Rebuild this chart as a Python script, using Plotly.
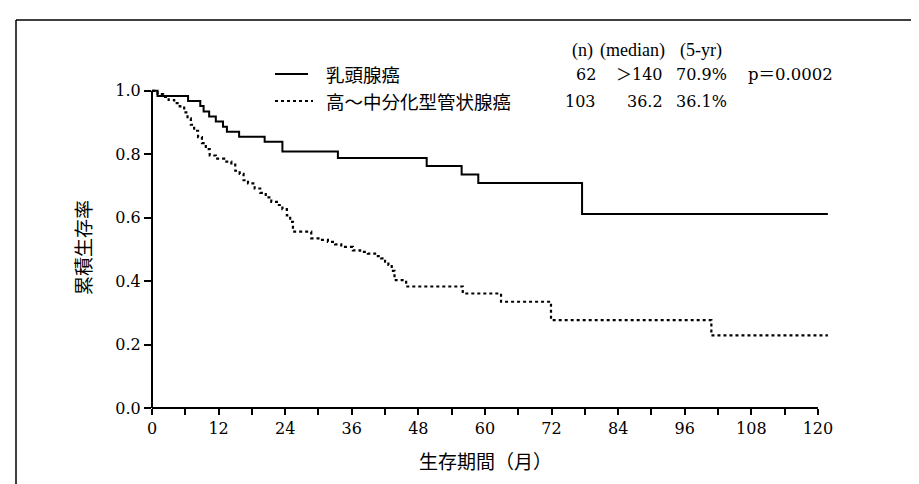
import plotly.graph_objects as go

# ---------------- data ----------------
papillary_months = [0, 1.0, 6.5, 8.7, 9.3, 10.3, 11.5, 12.8, 13.5, 15.7, 20.3, 23.5,
                    33.5, 49.5, 55.8, 58.8, 77.5, 121.8]
papillary_surv = [1.0, 0.984, 0.968, 0.952, 0.935, 0.919, 0.903, 0.887, 0.871, 0.855,
                  0.839, 0.809, 0.788, 0.763, 0.736, 0.709, 0.612, 0.612]

tubular_months = [0, 1, 2, 3, 4, 5, 5.8, 6.4, 7.0, 7.6, 8.3, 9.0, 9.7, 10.4, 11.5, 13.0,
                  14.3, 15.0, 15.8, 16.5, 17.3, 18.5, 19.5, 20.5, 21.5, 22.5, 23.5, 24.3,
                  24.9, 25.4, 28.7, 30.2, 31.7, 33.0, 34.1, 36.2, 37.5, 38.9, 40.2, 41.3,
                  42.0, 42.6, 43.2, 43.7, 45.8, 56.0, 62.9, 71.9, 100.8, 121.8]
tubular_surv = [1.0, 0.990, 0.981, 0.971, 0.961, 0.951, 0.932, 0.913, 0.893, 0.874, 0.854,
                0.835, 0.816, 0.796, 0.786, 0.777, 0.767, 0.748, 0.738, 0.718, 0.708, 0.692,
                0.678, 0.664, 0.650, 0.640, 0.627, 0.607, 0.587, 0.556, 0.535, 0.530, 0.524,
                0.516, 0.508, 0.497, 0.492, 0.487, 0.479, 0.472, 0.461, 0.451, 0.432, 0.403,
                0.383, 0.361, 0.335, 0.277, 0.229, 0.229]

group_names = ["乳頭腺癌", "高〜中分化型管状腺癌"]
group_n = ["62", "103"]
group_median = ["＞140", "36.2"]
group_5yr = ["70.9%", "36.1%"]
p_value_text = "p＝0.0002"
header_labels = ["(n)", "(median)", "(5-yr)"]

x_tick_vals = [0, 6, 12, 18, 24, 30, 36, 42, 48, 54, 60, 66, 72, 78, 84, 90, 96, 102, 108, 114, 120]
x_tick_text = ["0", "", "12", "", "24", "", "36", "", "48", "", "60", "", "72", "", "84", "",
               "96", "", "108", "", "120"]
y_tick_vals = [0.0, 0.2, 0.4, 0.6, 0.8, 1.0]
y_tick_text = ["0.0", "0.2", "0.4", "0.6", "0.8", "1.0"]

x_title = "生存期間（月）"
y_title = "累積生存率"

# ---------------- layout geometry ----------------
W, H = 919, 484
L, R, T, B = 144, 821, 79, 400
XMAX, YMAX = 122, 1.012
SERIF = "DejaVu Serif, Noto Sans CJK JP"
TEXT_SERIF = "Liberation Serif, Noto Sans CJK JP"
CJK = "Noto Sans CJK JP, DejaVu Serif"


def px(p):
    return (p - L) / (R - L)


def py(p):
    return (B - p) / (B - T)


fig = go.Figure()
fig.add_trace(go.Scatter(x=papillary_months, y=papillary_surv, mode="lines",
                         line=dict(color="black", width=2, shape="hv"),
                         name=group_names[0], showlegend=False))
fig.add_trace(go.Scatter(x=tubular_months, y=tubular_surv, mode="lines",
                         line=dict(color="black", width=2.2, shape="hv", dash="3px,3px"),
                         name=group_names[1], showlegend=False))

header_y = 43
rows_y = [66, 93]
shapes = []
# axis lines
shapes.append(dict(type="line", xref="paper", yref="paper", x0=0, x1=120 / XMAX, y0=0, y1=0,
                   line=dict(color="black", width=2)))
shapes.append(dict(type="line", xref="paper", yref="paper", x0=0, x1=0, y0=0, y1=1.0 / YMAX,
                   line=dict(color="black", width=2)))
# frame
shapes.append(dict(type="line", xref="paper", yref="paper", x0=px(8), x1=px(912), y0=py(12), y1=py(12),
                   line=dict(color="black", width=1.5)))
shapes.append(dict(type="line", xref="paper", yref="paper", x0=px(8), x1=px(8), y0=py(12), y1=py(486),
                   line=dict(color="black", width=1.5)))
shapes.append(dict(type="line", xref="paper", yref="paper", x0=px(912), x1=px(912), y0=py(12), y1=py(486),
                   line=dict(color="black", width=1.5)))
# legend samples
shapes.append(dict(type="line", xref="paper", yref="paper", x0=px(267), x1=px(300),
                   y0=py(rows_y[0]), y1=py(rows_y[0]), line=dict(color="black", width=2)))
shapes.append(dict(type="line", xref="paper", yref="paper", x0=px(267), x1=px(305),
                   y0=py(rows_y[1]), y1=py(rows_y[1]),
                   line=dict(color="black", width=2.2, dash="3px,3px")))

ann = []


def add_text(text, x, y, anchor, family, size):
    ann.append(dict(text=text, x=px(x), y=py(y), xref="paper", yref="paper",
                    xanchor=anchor, yanchor="middle", showarrow=False,
                    font=dict(family=family, size=size, color="black")))


# header
add_text(header_labels[0], 574, header_y, "center", TEXT_SERIF, 18)
add_text(header_labels[1], 624, header_y, "center", TEXT_SERIF, 18)
add_text(header_labels[2], 693, header_y, "center", TEXT_SERIF, 18)
for i in range(2):
    add_text(group_names[i], 316, rows_y[i], "left", CJK, 18.5)
    add_text(group_n[i], 590, rows_y[i], "right", SERIF, 16)
    add_text(group_median[i], 657, rows_y[i], "right", SERIF, 16)
    add_text(group_5yr[i], 666, rows_y[i], "left", SERIF, 16)
add_text(p_value_text, 738, rows_y[0], "left", SERIF, 16.5)

# axis titles
ann.append(dict(text=x_title, x=px(477), y=py(453), xref="paper", yref="paper",
                xanchor="center", yanchor="middle", showarrow=False,
                font=dict(family=CJK, size=19, color="black")))
ann.append(dict(text=y_title, x=px(75), y=py(240), xref="paper", yref="paper",
                xanchor="center", yanchor="middle", showarrow=False, textangle=-90,
                font=dict(family=CJK, size=19, color="black")))

fig.update_layout(
    width=W, height=H,
    margin=dict(l=L, r=W - R, t=T, b=H - B),
    paper_bgcolor="white", plot_bgcolor="white",
    shapes=shapes, annotations=ann,
    showlegend=False,
    xaxis=dict(range=[0, XMAX], tickmode="array", tickvals=x_tick_vals, ticktext=x_tick_text,
               ticks="outside", ticklen=6, tickwidth=1.5, tickcolor="black",
               showgrid=False, zeroline=False, showline=False,
               tickfont=dict(family=SERIF, size=16, color="black")),
    yaxis=dict(range=[0, YMAX], tickmode="array", tickvals=y_tick_vals, ticktext=y_tick_text,
               ticks="outside", ticklen=7, tickwidth=1.5, tickcolor="black",
               showgrid=False, zeroline=False, showline=False,
               tickfont=dict(family=SERIF, size=16, color="black")),
)

fig.write_html("out.html")
